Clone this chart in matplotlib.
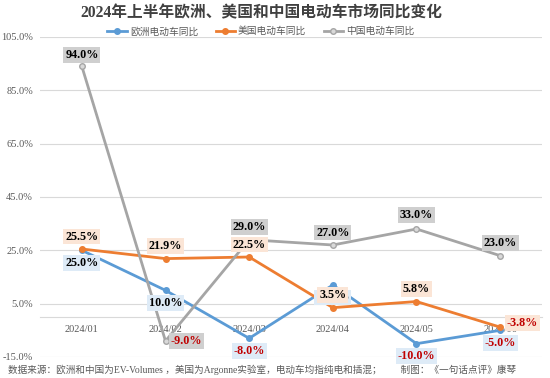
import matplotlib
matplotlib.use("Agg")
import matplotlib.pyplot as plt
import numpy as np

# 字体：数字用衬线体，中文回退到 Noto CJK
plt.rcParams['font.family'] = ['Liberation Serif', 'Noto Sans CJK SC']

# 数据
months = ["2024/01", "2024/02", "2024/03", "2024/04", "2024/05", "2024/06"]
europe = [25.0, 10.0, -8.0, 12.0, -10.0, -5.0]
usa = [25.5, 21.9, 22.5, 3.5, 5.8, -3.8]
china = [94.0, -9.0, 29.0, 27.0, 33.0, 23.0]
series_names = ["欧洲电动车同比", "美国电动车同比", "中国电动车同比"]
yticks = [-15, 5, 25, 45, 65, 85, 105]

title = "2024年上半年欧洲、美国和中国电动车市场同比变化"
footer = "数据来源：欧洲和中国为EV-Volumes ，美国为Argonne实验室，电动车均指纯电和插混；        制图：《一句话点评》康琴"

colors = ["#5b9bd5", "#ed7d31", "#a5a5a5"]
box_colors = ["#deebf7", "#fbe5d6", "#cfcfcf"]

fig = plt.figure(figsize=(5.5, 3.78), dpi=100)
ax = fig.add_axes([40 / 550, 1 - 357 / 378, 502 / 550, 320 / 378])

x = np.arange(len(months))
alle = [europe, usa, china]
for vals, c, name in zip(alle, colors, series_names):
    mfc = c if c != "#a5a5a5" else "#d9d9d9"
    ax.plot(x, vals, color=c, lw=2, marker="o", ms=4, mfc=mfc, mec=c, label=name, zorder=3)

# 数据标签偏移（点）
offsets = [
    [(0, -9)] * 6,
    [(0, 9)] * 5 + [(16, 3)],
    [(0, 8), (15, 0), (0, 9), (0, 9), (0, 10), (0, 9)],
]
for vals, bc, offs, z in zip(alle, box_colors, offsets, [4, 5, 6]):
    for i, v in enumerate(vals):
        tc = "#c00000" if v < 0 else "black"
        ax.annotate(f"{v:.1f}%", (i, v), xytext=offs[i], textcoords="offset points",
                    ha="center", va="center", fontsize=8.7, fontweight="bold", color=tc,
                    bbox=dict(boxstyle="square,pad=0.15", fc=bc, ec="none"), zorder=z)

ax.set_xlim(-0.5, 5.5)
ax.set_ylim(-15, 105)
ax.set_yticks(yticks)
ax.set_yticklabels([f"{t:.1f}%" for t in yticks])
ax.set_xticks(x)
ax.set_xticklabels(months)
ax.tick_params(axis="both", length=0, labelsize=7.5, labelcolor="#595959")
ax.tick_params(axis="x", pad=6)
ax.tick_params(axis="y", pad=5)
ax.grid(axis="y", color="#d9d9d9", lw=0.8)
ax.set_axisbelow(True)
for s in ["top", "right", "left"]:
    ax.spines[s].set_visible(False)
ax.spines["bottom"].set_position(("data", 0))
ax.spines["bottom"].set_color("#d9d9d9")
ax.spines["bottom"].set_linewidth(0.8)

leg = ax.legend(loc="lower center", bbox_to_anchor=(0.44, 0.99), ncol=3, frameon=False,
                fontsize=7, handlelength=2.0, handletextpad=0.3, columnspacing=1.8,
                borderaxespad=0)
for t in leg.get_texts():
    t.set_color("#595959")

fig.text(261 / 550, 1 - 13 / 378, title, ha="center", va="center", fontsize=11.3,
         fontweight="bold", color="#404040")
fig.text(8 / 550, 1 - 370 / 378, footer, ha="left", va="center", fontsize=6.9, color="#595959")

fig.savefig("out.png", dpi=100, facecolor="white")
